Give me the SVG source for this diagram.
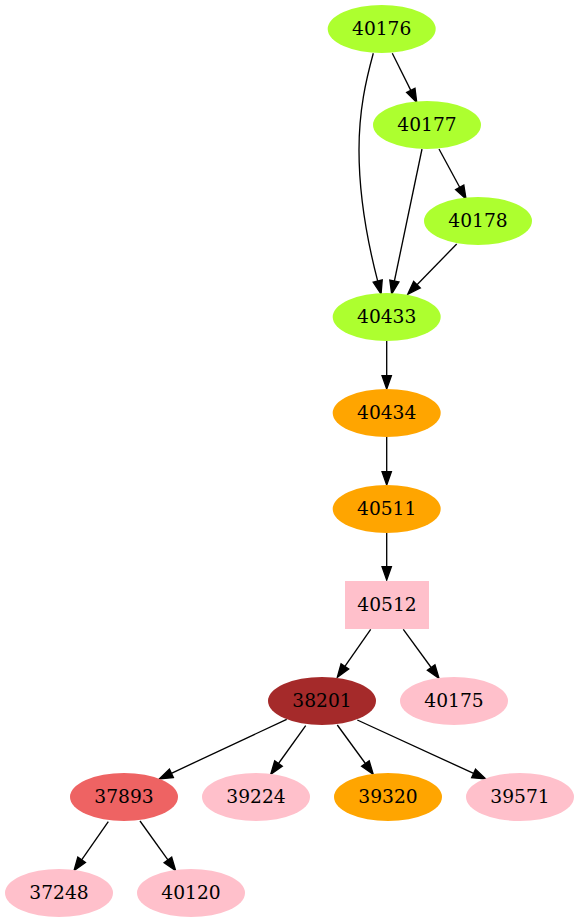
<svg xmlns="http://www.w3.org/2000/svg" width="579" height="923" viewBox="0 0 579 923">
<style>
.n text{font-family:"DejaVu Serif","Liberation Serif",serif;font-size:18.67px;text-anchor:middle;fill:#000}
.e path{fill:none;stroke:#000;stroke-width:1.33}
.g{fill:#adff2f}.o{fill:#ffa500}.p{fill:#ffc0cb}.b{fill:#a52a2a}.r{fill:#ee6363}
</style>
<defs>
<marker id="ah" markerUnits="userSpaceOnUse" viewBox="0 0 14 10" markerWidth="14" markerHeight="10" refX="0" refY="5" orient="auto" overflow="visible">
<path d="M0,0.33 L13.33,5 L0,9.67 z" fill="#000" stroke="#000" stroke-width="1.33"/>
</marker>
</defs>
<rect width="579" height="923" fill="#fff"/>
<g class="e" id="edges">
<path marker-end="url(#ah)" d="M373.3,53.3 C366,80 359,110 359,150 C359,195 367,240 377.7,281.1"/>
<path marker-end="url(#ah)" d="M392.3,53.3 L410.8,90.4"/>
<path marker-end="url(#ah)" d="M422,149 L394.4,281"/>
<path marker-end="url(#ah)" d="M439,149 L459.7,187.3"/>
<path marker-end="url(#ah)" d="M456.7,244 L417,284.75"/>
<path marker-end="url(#ah)" d="M386.7,341 L386.7,375.7"/>
<path marker-end="url(#ah)" d="M386.7,437 L386.7,471.7"/>
<path marker-end="url(#ah)" d="M386.7,533 L386.7,566.7"/>
<path marker-end="url(#ah)" d="M370.7,629.3 L344.9,666.4"/>
<path marker-end="url(#ah)" d="M403.3,629.3 L431.15,667.5"/>
<path marker-end="url(#ah)" d="M286.7,719.3 L171.4,773.3"/>
<path marker-end="url(#ah)" d="M305.7,725.7 L278.5,763.5"/>
<path marker-end="url(#ah)" d="M337.3,725 L365.4,763.5"/>
<path marker-end="url(#ah)" d="M357.3,720 L473.6,773.4"/>
<path marker-end="url(#ah)" d="M108.3,821.7 L81.65,859.8"/>
<path marker-end="url(#ah)" d="M140,821 L167.9,859.9"/>
</g>
<g class="n" id="n40176"><ellipse class="g" cx="381.7" cy="29" rx="54" ry="24"/><text x="381.7" y="34.5">40176</text></g>
<g class="n" id="n40177"><ellipse class="g" cx="427" cy="125" rx="54" ry="24"/><text x="427" y="130.5">40177</text></g>
<g class="n" id="n40178"><ellipse class="g" cx="478" cy="221" rx="54" ry="24"/><text x="478" y="226.5">40178</text></g>
<g class="n" id="n40433"><ellipse class="g" cx="386.7" cy="317" rx="54" ry="24"/><text x="386.7" y="322.5">40433</text></g>
<g class="n" id="n40434"><ellipse class="o" cx="386.7" cy="413" rx="54" ry="24"/><text x="386.7" y="418.5">40434</text></g>
<g class="n" id="n40511"><ellipse class="o" cx="386.7" cy="509" rx="54" ry="24"/><text x="386.7" y="514.5">40511</text></g>
<g class="n" id="n40512"><rect class="p" x="345" y="581" width="84" height="48"/><text x="387" y="610.5">40512</text></g>
<g class="n" id="n38201"><ellipse class="b" cx="322" cy="701" rx="54" ry="24"/><text x="322" y="706.5">38201</text></g>
<g class="n" id="n40175"><ellipse class="p" cx="454" cy="701" rx="54" ry="24"/><text x="454" y="706.5">40175</text></g>
<g class="n" id="n37893"><ellipse class="r" cx="124" cy="797" rx="54" ry="24"/><text x="124" y="802.5">37893</text></g>
<g class="n" id="n39224"><ellipse class="p" cx="256" cy="797" rx="54" ry="24"/><text x="256" y="802.5">39224</text></g>
<g class="n" id="n39320"><ellipse class="o" cx="388" cy="797" rx="54" ry="24"/><text x="388" y="802.5">39320</text></g>
<g class="n" id="n39571"><ellipse class="p" cx="520" cy="797" rx="54" ry="24"/><text x="520" y="802.5">39571</text></g>
<g class="n" id="n37248"><ellipse class="p" cx="59" cy="893" rx="54" ry="24"/><text x="59" y="898.5">37248</text></g>
<g class="n" id="n40120"><ellipse class="p" cx="191" cy="893" rx="54" ry="24"/><text x="191" y="898.5">40120</text></g>
</svg>
